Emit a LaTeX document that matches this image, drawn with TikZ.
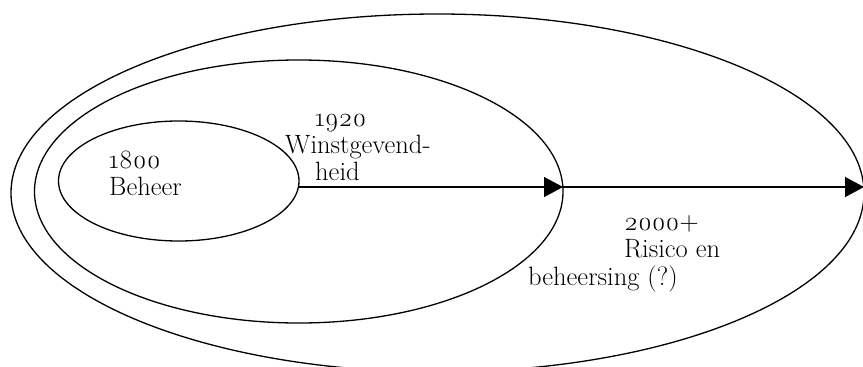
\documentclass[tikz,border=0pt]{standalone}
\usepackage{fontspec}
\setmainfont{Latin Modern Roman}[Numbers=OldStyle]
\usetikzlibrary{shapes.geometric,arrows.meta}

\begin{document}
\begin{tikzpicture}
[x=1pt,y=-1pt,
  eradecorate/.style={shape=ellipse,draw,line width=1.3pt,inner sep=0pt,outer sep=0pt},%
  textdecorate/.style={anchor=base west,inner sep=0pt,font=\fontsize{26.5}{27}\selectfont},%
  linedecorate/.style={line width=1.3pt,-{Triangle[length=19pt,width=20pt]}}]
\useasboundingbox (0,0) rectangle (863,367);
%% the three periods, nested
\node (era2000) at (437.5,193) [eradecorate,minimum width=853pt,minimum height=358pt] {};
\node (era1920) at (298.75,191.5) [eradecorate,minimum width=528.5pt,minimum height=263pt] {};
\node (era1800) at (178.75,181) [eradecorate,minimum width=240.5pt,minimum height=120pt] {};
\coordinate (axis) at (0,187);
%% labels, one line each
\foreach \nodename/\nodelabel/\x/\y in {
  t1/1800/109/168, t2/Beheer/109/195,
  t3/1920/315/126, t4/Winstgevend-/285/153, t5/heid/315/180,
  t6/2000+/624/230, t7/Risico en/624/257,
  t8/beheersing (?)/528/285} {
  \node (\nodename) at (\x,\y) [textdecorate] {\nodelabel};
}
%% arrows along the time axis
\draw[linedecorate] (era1800.east |- axis) -- (era1920.east |- axis);
\draw[linedecorate] (era1920.east |- axis) -- (era2000.east |- axis);
\end{tikzpicture}
\end{document}
